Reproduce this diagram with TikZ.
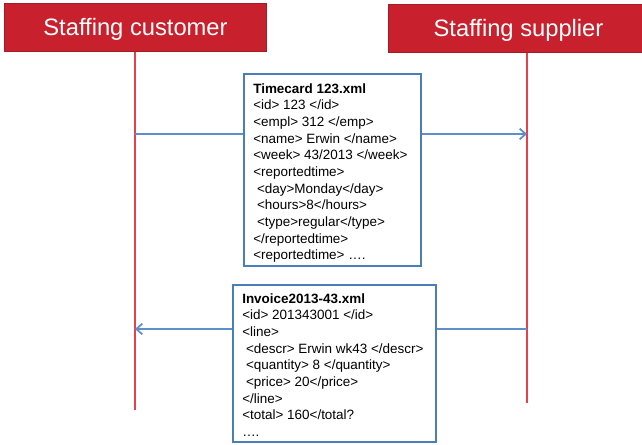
\documentclass[tikz,border=0pt]{standalone}
\usepackage{fontspec}
\setmainfont{Liberation Sans}
\usetikzlibrary{arrows.meta,fit}

\definecolor{hdrfill}{HTML}{C8202C}
\definecolor{hdredge}{HTML}{A31B24}
\definecolor{lifered}{HTML}{E5404C}
\definecolor{boxblue}{HTML}{4A7EBB}
\definecolor{msgblue}{HTML}{5E8FCB}

\tikzset{
  party/.style={draw=hdredge, line width=1.2pt, fill=hdrfill, inner sep=0pt},
  partylabel/.style={anchor=base, inner sep=0pt, text=white,
    font=\fontsize{17.8}{20}\selectfont},
  lifeline/.style={draw=lifered, line width=1.1pt},
  message/.style={draw=msgblue, line width=1.5pt,
    -{Straight Barb[length=4.5pt,width=8pt,line width=1.3pt]}},
  xmlbox/.style={draw=boxblue, line width=1.5pt, fill=white, inner sep=0pt},
  xmltext/.style={anchor=north west, inner sep=0pt, align=left,
    font=\fontsize{10.1}{12.5}\selectfont}
}

\begin{document}
\begin{tikzpicture}[x=0.75pt,y=-0.75pt]
  \clip (0,0) rectangle (642,445);
  \fill[white] (0,0) rectangle (642,445);

  % participant headers
  \coordinate (cust-nw) at (4.5,3.5);
  \coordinate (cust-se) at (266.5,51.5);
  \node[party, fit=(cust-nw)(cust-se)] (cust) {};
  \node[partylabel] (cust-label) at (135.5,36) {Staffing customer};

  \coordinate (supp-nw) at (388.5,4.5);
  \coordinate (supp-se) at (649,52.5);
  \node[party, fit=(supp-nw)(supp-se)] (supp) {};
  \node[partylabel] (supp-label) at (518.5,37) {Staffing supplier};

  % lifelines
  \coordinate (cust-top) at (135,52.5);
  \coordinate (cust-end) at (135,410);
  \coordinate (supp-top) at (527,53.5);
  \coordinate (supp-end) at (527,403);
  \draw[lifeline] (cust-top) -- (cust-end);
  \draw[lifeline] (supp-top) -- (supp-end);

  % messages
  \coordinate (m1-from) at (135,134);
  \coordinate (m1-to) at (527,134);
  \draw[message] (m1-from) -- (m1-to);
  \coordinate (m2-from) at (527,329);
  \coordinate (m2-to) at (135,329);
  \draw[message] (m2-from) -- (m2-to);

  % timecard document
  \coordinate (tc-nw) at (244,74);
  \coordinate (tc-se) at (421,266);
  \node[xmlbox, fit=(tc-nw)(tc-se)] (timecard) {};
  \node[xmltext] (timecard-text) at (253,83) {%
    \textbf{Timecard 123.xml}\\
    <id> 123 </id>\\
    <empl> 312 </emp>\\
    <name> Erwin </name>\\
    <week> 43/2013 </week>\\
    <reportedtime>\\
    \hspace*{0.28em}<day>Monday</day>\\
    \hspace*{0.28em}<hours>8</hours>\\
    \hspace*{0.28em}<type>regular</type>\\
    </reportedtime>\\
    <reportedtime> ….};

  % invoice document
  \coordinate (inv-nw) at (233,285);
  \coordinate (inv-se) at (436,442);
  \node[xmlbox, fit=(inv-nw)(inv-se)] (invoice) {};
  \node[xmltext] (invoice-text) at (242,293) {%
    \textbf{Invoice2013-43.xml}\\
    <id> 201343001 </id>\\
    <line>\\
    \hspace*{0.28em}<descr> Erwin wk43 </descr>\\
    \hspace*{0.28em}<quantity> 8 </quantity>\\
    \hspace*{0.28em}<price> 20</price>\\
    </line>\\
    <total> 160</total?\\
    ….};
\end{tikzpicture}
\end{document}
